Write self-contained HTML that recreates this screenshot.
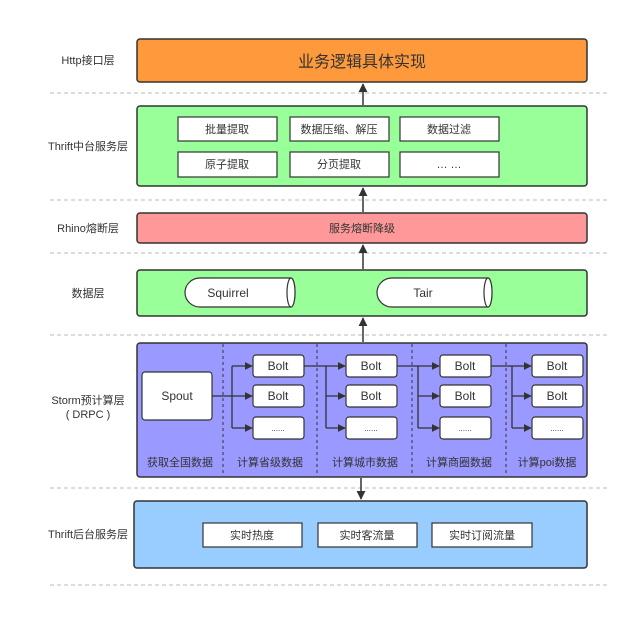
<!DOCTYPE html>
<html><head><meta charset="utf-8"><style>
html,body{margin:0;padding:0;background:#fff;}
svg{display:block;}
text{font-family:"Liberation Sans","Noto Sans CJK SC",sans-serif;fill:#333;}
</style></head><body>
<svg width="640" height="620" viewBox="0 0 640 620" xmlns="http://www.w3.org/2000/svg">
<defs>
<marker id="a" viewBox="0 0 10 10" refX="9" refY="5" markerWidth="6" markerHeight="6" orient="auto"><path d="M0,0 L10,5 L0,10 z" fill="#333"/></marker>
</defs>
<g stroke="#bbb" stroke-dasharray="4,3" stroke-width="1">
<line x1="50" y1="93" x2="610" y2="93"/>
<line x1="50" y1="200" x2="610" y2="200"/>
<line x1="50" y1="253" x2="610" y2="253"/>
<line x1="50" y1="335" x2="610" y2="335"/>
<line x1="50" y1="488" x2="610" y2="488"/>
<line x1="50" y1="585" x2="610" y2="585"/>
</g>
<g font-size="11" text-anchor="middle">
<text x="88" y="64">Http接口层</text>
<text x="88" y="150">Thrift中台服务层</text>
<text x="88" y="232">Rhino熔断层</text>
<text x="88" y="297">数据层</text>
<text x="88" y="404">Storm预计算层</text>
<text x="88" y="418">( DRPC )</text>
<text x="88" y="538">Thrift后台服务层</text>
</g>
<!-- arrows between layers -->
<g stroke="#333" stroke-width="1.5" fill="none">
<line x1="363" y1="105" x2="363" y2="84" marker-end="url(#a)"/>
<line x1="363" y1="212" x2="363" y2="188" marker-end="url(#a)"/>
<line x1="363" y1="269" x2="363" y2="245" marker-end="url(#a)"/>
<line x1="363" y1="342" x2="363" y2="318" marker-end="url(#a)"/>
<line x1="361" y1="478" x2="361" y2="499" marker-end="url(#a)"/>
</g>
<rect x="137" y="39" width="450" height="43" rx="3" fill="#ff9a3c" stroke="#333" stroke-width="1.5"/>
<text x="362" y="67" font-size="16" text-anchor="middle">业务逻辑具体实现</text>
<rect x="137" y="106" width="450" height="80" rx="3" fill="#99ff99" stroke="#333" stroke-width="1.5"/>
<g fill="#fff" stroke="#333" stroke-width="1.2">
<rect x="178" y="117" width="99" height="24"/><rect x="290" y="117" width="99" height="24"/><rect x="400" y="117" width="99" height="24"/>
<rect x="178" y="152" width="99" height="25"/><rect x="290" y="152" width="99" height="25"/><rect x="400" y="152" width="99" height="25"/>
</g>
<g font-size="11" text-anchor="middle">
<text x="227" y="133">批量提取</text><text x="339" y="133">数据压缩、解压</text><text x="449" y="133">数据过滤</text>
<text x="227" y="168">原子提取</text><text x="339" y="168">分页提取</text><text x="449" y="168">… …</text>
</g>
<rect x="137" y="213" width="450" height="30" rx="3" fill="#ff9999" stroke="#333" stroke-width="1.5"/>
<text x="362" y="232" font-size="11" text-anchor="middle">服务熔断降级</text>
<rect x="137" y="270" width="450" height="46" rx="3" fill="#99ff99" stroke="#333" stroke-width="1.5"/>
<g fill="#fff" stroke="#333" stroke-width="1.2">
<path d="M200,278 L291,278 A4,14.5 0 0 1 291,307 L200,307 A15,14.5 0 0 1 200,278 Z"/>
<ellipse cx="291" cy="292.5" rx="4" ry="14.5"/>
<path d="M392,278 L488,278 A4,14.5 0 0 1 488,307 L392,307 A15,14.5 0 0 1 392,278 Z"/>
<ellipse cx="488" cy="292.5" rx="4" ry="14.5"/>
</g>
<text x="228" y="297" font-size="12" text-anchor="middle">Squirrel</text>
<text x="423" y="297" font-size="12" text-anchor="middle">Tair</text>
<!-- storm -->
<rect x="137" y="343" width="450" height="134" rx="3" fill="#9999ff" stroke="#333" stroke-width="1.5"/>
<g stroke="#333" stroke-dasharray="3,3" stroke-width="1">
<line x1="223" y1="344" x2="223" y2="476"/><line x1="317" y1="344" x2="317" y2="476"/>
<line x1="412" y1="344" x2="412" y2="476"/><line x1="506" y1="344" x2="506" y2="476"/>
</g>
<rect x="142" y="372" width="70" height="48" rx="3" fill="#fff" stroke="#333" stroke-width="1.2"/>
<text x="177" y="400" font-size="12" text-anchor="middle">Spout</text>
<g stroke="#333" stroke-width="1.3" fill="none">
<path d="M212,396 L232,396"/>
<path d="M232,366 L232,428"/>
<line x1="232" y1="366" x2="252" y2="366" marker-end="url(#a)"/>
<line x1="232" y1="396" x2="252" y2="396" marker-end="url(#a)"/>
<line x1="232" y1="428" x2="252" y2="428" marker-end="url(#a)"/>
<path d="M304,366 L326,366 M326,366 L326,428"/>
<line x1="326" y1="366" x2="345" y2="366" marker-end="url(#a)"/>
<line x1="326" y1="396" x2="345" y2="396" marker-end="url(#a)"/>
<line x1="326" y1="428" x2="345" y2="428" marker-end="url(#a)"/>
<path d="M397,366 L418,366 M418,366 L418,428"/>
<line x1="418" y1="366" x2="439" y2="366" marker-end="url(#a)"/>
<line x1="418" y1="396" x2="439" y2="396" marker-end="url(#a)"/>
<line x1="418" y1="428" x2="439" y2="428" marker-end="url(#a)"/>
<path d="M491,366 L512,366 M512,366 L512,428"/>
<line x1="512" y1="366" x2="531" y2="366" marker-end="url(#a)"/>
<line x1="512" y1="396" x2="531" y2="396" marker-end="url(#a)"/>
<line x1="512" y1="428" x2="531" y2="428" marker-end="url(#a)"/>
</g>
<g fill="#fff" stroke="#333" stroke-width="1.2">
<rect x="253" y="355" width="51" height="22" rx="3"/><rect x="253" y="385" width="51" height="22" rx="3"/><rect x="253" y="417" width="51" height="22" rx="3"/>
<rect x="346" y="355" width="51" height="22" rx="3"/><rect x="346" y="385" width="51" height="22" rx="3"/><rect x="346" y="417" width="51" height="22" rx="3"/>
<rect x="440" y="355" width="51" height="22" rx="3"/><rect x="440" y="385" width="51" height="22" rx="3"/><rect x="440" y="417" width="51" height="22" rx="3"/>
<rect x="532" y="355" width="51" height="22" rx="3"/><rect x="532" y="385" width="51" height="22" rx="3"/><rect x="532" y="417" width="51" height="22" rx="3"/>
</g>
<g font-size="12" text-anchor="middle">
<text x="278" y="370">Bolt</text><text x="278" y="400">Bolt</text><text x="278" y="431" font-size="8">......</text>
<text x="371" y="370">Bolt</text><text x="371" y="400">Bolt</text><text x="371" y="431" font-size="8">......</text>
<text x="465" y="370">Bolt</text><text x="465" y="400">Bolt</text><text x="465" y="431" font-size="8">......</text>
<text x="557" y="370">Bolt</text><text x="557" y="400">Bolt</text><text x="557" y="431" font-size="8">......</text>
</g>
<g font-size="11" text-anchor="middle">
<text x="180" y="466">获取全国数据</text><text x="270" y="466">计算省级数据</text><text x="365" y="466">计算城市数据</text>
<text x="459" y="466">计算商圈数据</text><text x="547" y="466">计算poi数据</text>
</g>
<rect x="134" y="501" width="453" height="67" rx="3" fill="#99ccff" stroke="#333" stroke-width="1.5"/>
<g fill="#fff" stroke="#333" stroke-width="1.2">
<rect x="203" y="523" width="99" height="24"/><rect x="318" y="523" width="99" height="24"/><rect x="432" y="523" width="100" height="24"/>
</g>
<g font-size="11" text-anchor="middle">
<text x="252" y="539">实时热度</text><text x="367" y="539">实时客流量</text><text x="482" y="539">实时订阅流量</text>
</g>
</svg>
</body></html>
